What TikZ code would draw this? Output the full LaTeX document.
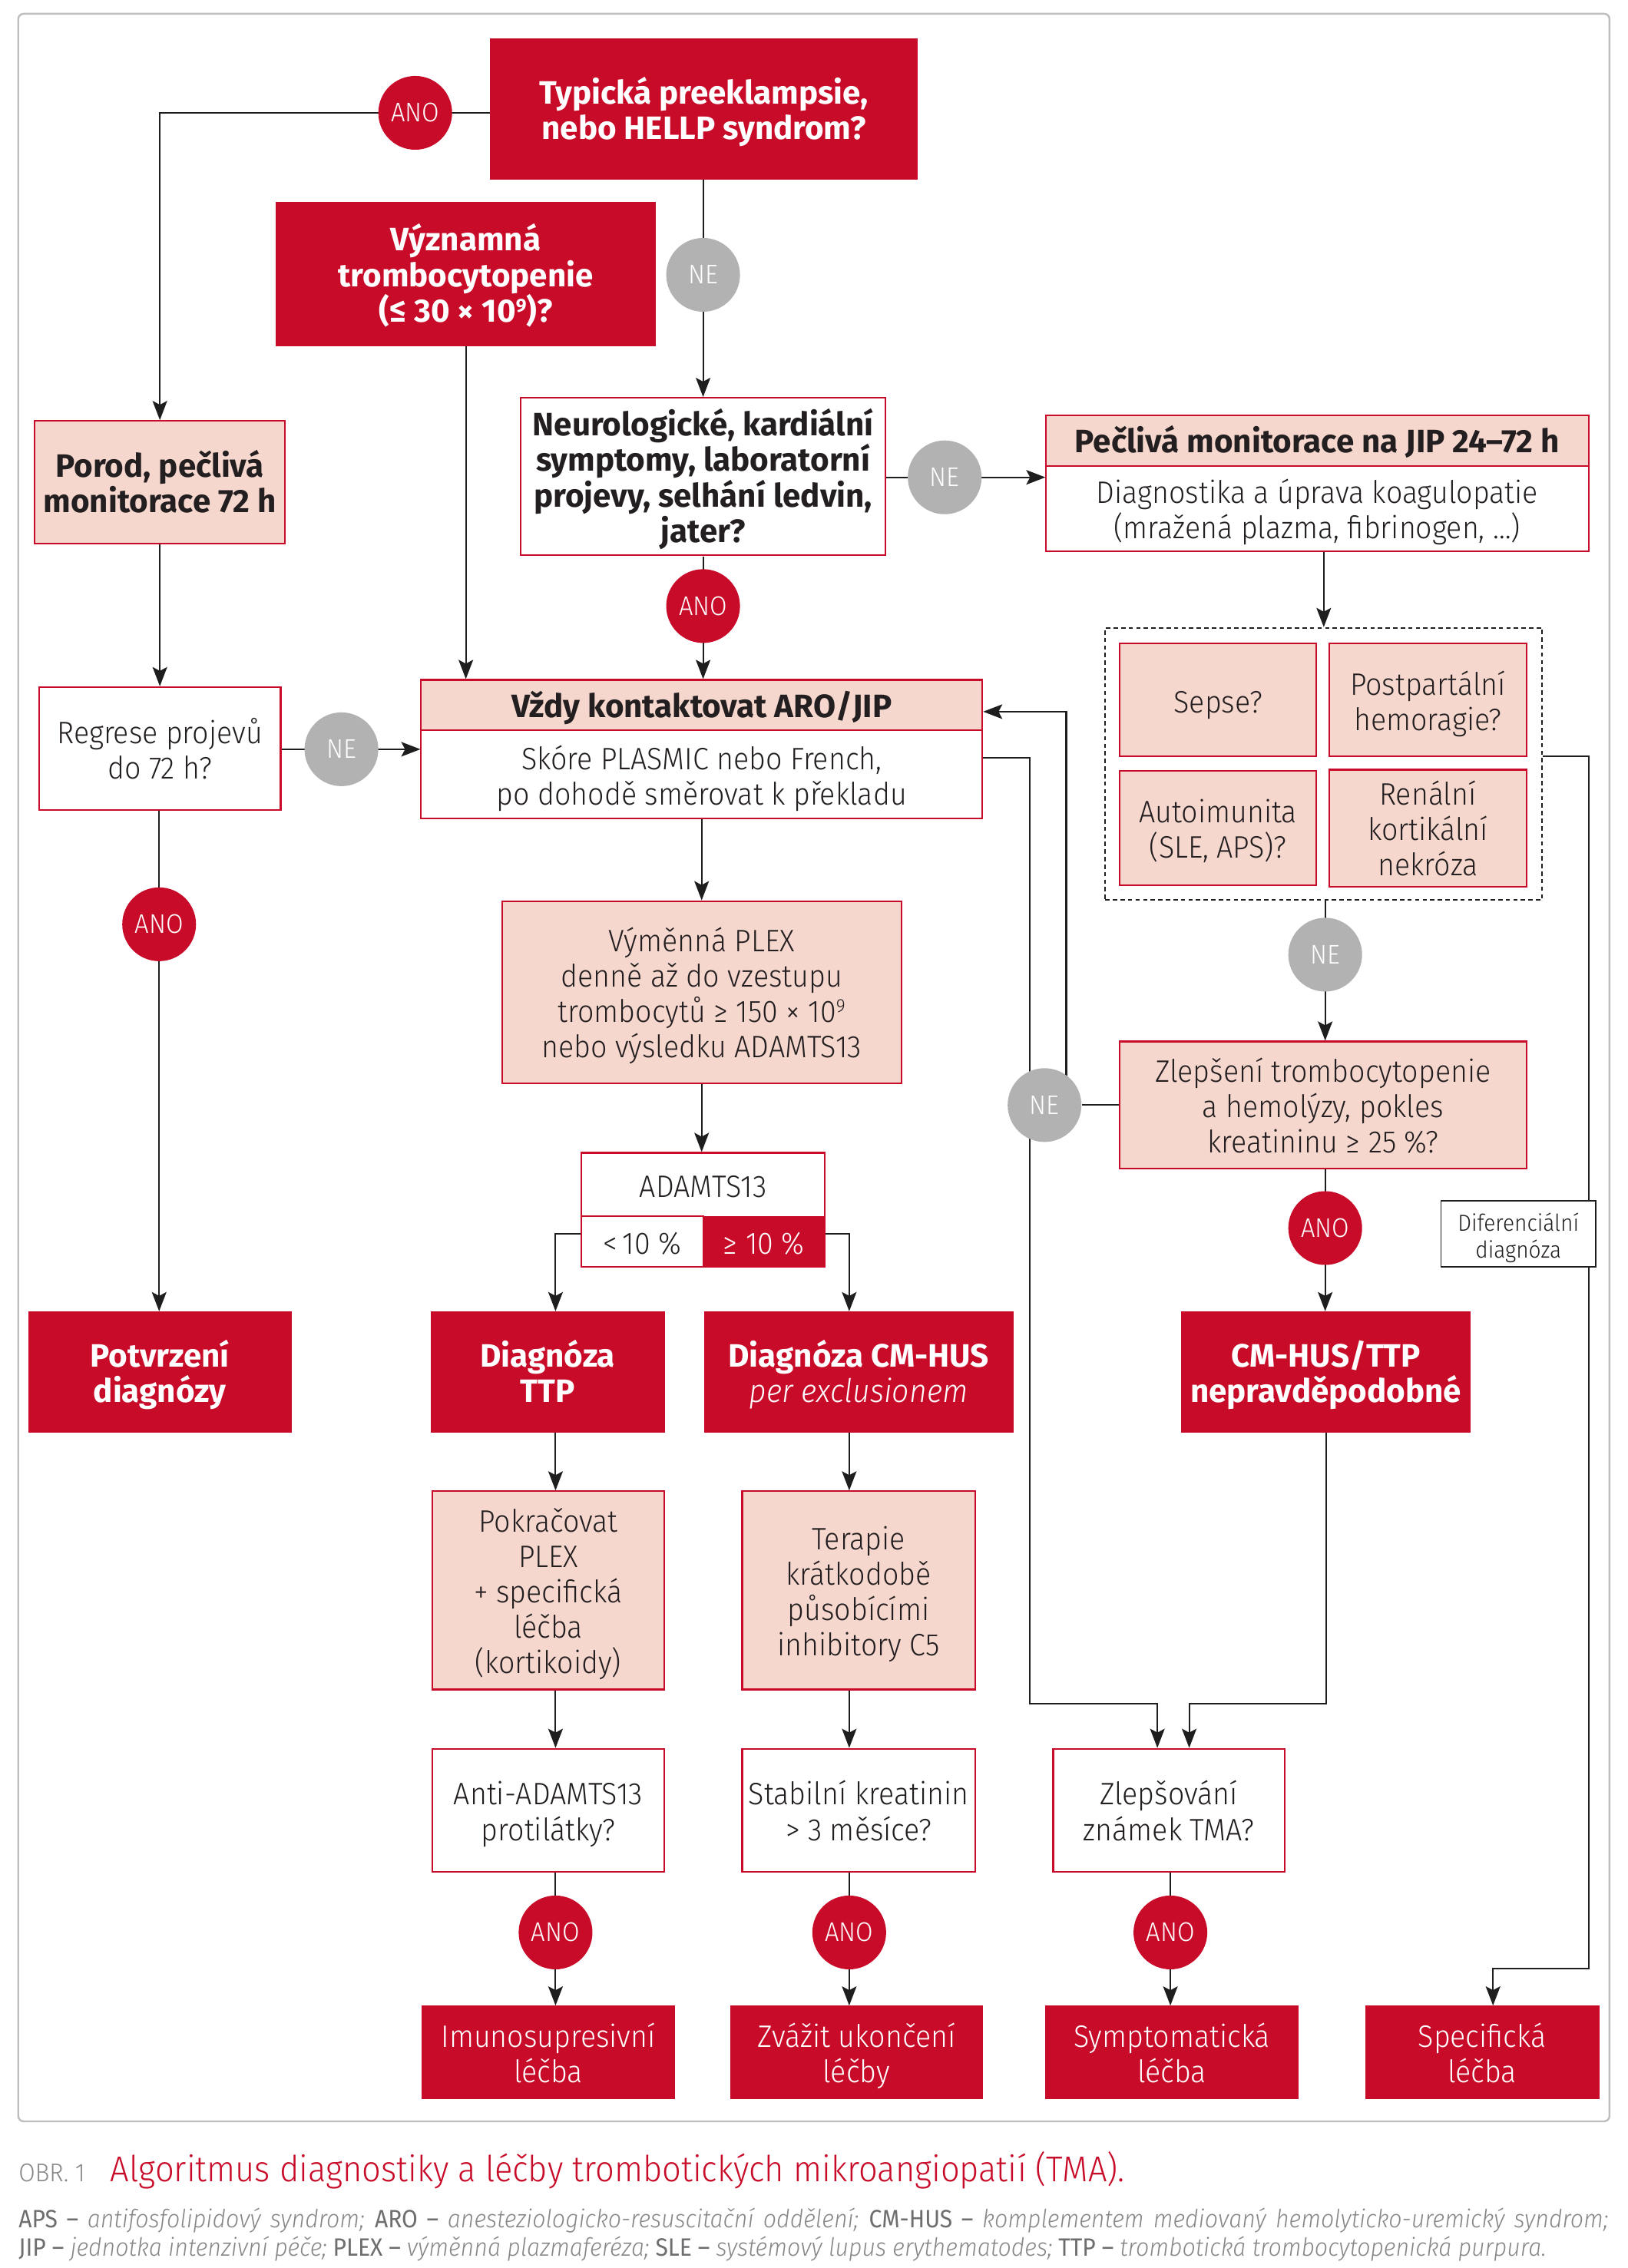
\documentclass[tikz,border=0pt]{standalone}
\usepackage{fontspec}
\setmainfont{Fira Sans}[UprightFeatures={FakeStretch=0.92}, ItalicFeatures={FakeStretch=0.92}]
\IfFontExistsTF{Fira Sans Light}{%
  \newfontfamily\lightfam{Fira Sans Light}[FakeStretch=0.93]}{%
  \newfontfamily\lightfam{Fira Sans}[FakeStretch=0.92]}
\usetikzlibrary{backgrounds,arrows.meta,calc}
\definecolor{tmared}{RGB}{200,11,40}
\definecolor{tpink}{RGB}{246,215,206}
\definecolor{tgray}{RGB}{178,178,178}
\definecolor{tdark}{RGB}{35,31,32}
\definecolor{tline}{RGB}{30,30,30}
\definecolor{framegray}{RGB}{190,190,190}
\definecolor{leggray}{RGB}{110,110,112}
\definecolor{leggrayi}{RGB}{135,135,137}
\newcommand\fsB{\lightfam\fontsize{11.5}{13.1}\selectfont}
\newcommand\fsH{\rmfamily\bfseries\fontsize{12}{13.2}\selectfont}
\newcommand\fsT{\lightfam\fontsize{10}{10}\selectfont}
\newcommand\fsD{\lightfam\fontsize{8.6}{10}\selectfont}
\newcommand\fsL{\fontsize{9.3}{10.5}\selectfont}
\newcommand\supnine{\raisebox{0.6ex}{\fontsize{7}{7}\selectfont 9}}
\newcommand\topstrut{\rule{0pt}{\dimexpr0.7\baselineskip+4pt\relax}}
\newcommand\tb[1]{\topstrut#1\strut}
\tikzset{
  cbox/.style n args={4}{minimum width={(#3-#1)*0.01884cm}, minimum height={(#4-#2)*0.01884cm}, at={({(#1+#3)/2},{(#2+#4)/2})}},
  nbase/.style={rectangle, inner sep=0pt, align=center, text=tdark, font=\fsB},
  redbox/.style={nbase, fill=tmared, draw=tmared, line width=0.5pt, text=white, font=\fsH},
  redlight/.style={redbox, font=\fsB},
  pinkbox/.style={nbase, fill=tpink, draw=tmared, line width=0.6pt},
  whitebox/.style={nbase, fill=white, draw=tmared, line width=0.6pt},
  tagc/.style={circle, inner sep=0pt, minimum size=0.961cm, text=white, font=\fsT},
  anoc/.style={tagc, fill=tmared},
  nec/.style={tagc, fill=tgray},
  arr/.style={draw=tline, line width=0.6pt, -{Stealth[length=0.25cm,width=0.19cm,inset=0.05cm]}},
  conn/.style={draw=tline, line width=0.6pt},
}
\begin{document}
\begin{tikzpicture}[x=0.01884cm, y=-0.01884cm]
\useasboundingbox (0,0) rectangle (1125.3,1568);

% ---- top ----
\node[redbox, cbox={339}{27}{634}{124}] (pre) {\tb{Typická preeklampsie,\\nebo HELLP syndrom?}};
\node[redbox, cbox={191}{140}{453}{239}] (vyz) {\tb{Významná\\trombocytopenie\\(≤ 30 × 10\supnine)?}};
\node[whitebox, font=\fsH, cbox={360}{275}{612}{384}] (neuro) {\tb{Neurologické, kardiální\\symptomy, laboratorní\\projevy, selhání ledvin,\\jater?}};
\node[whitebox, cbox={723}{287}{1098}{381}] (pm) {};
\node[pinkbox, font=\fsH, cbox={723}{287}{1098}{322}] (pmh) {\tb{Pečlivá monitorace na JIP 24–72 h}};
\node[nbase, cbox={723}{322}{1098}{381}] (pmb) {\tb{Diagnostika a úprava koagulopatie\\(mražená plazma, fibrinogen, …)}};
\node[pinkbox, font=\fsH, cbox={24}{291}{197}{376}] (porod) {\tb{Porod, pečlivá\\monitorace 72 h}};
\node[whitebox, cbox={27}{475}{194}{560}] (regrese) {\tb{Regrese projevů\\do 72 h?}};
\node[whitebox, cbox={291}{470}{679}{566}] (vzdy) {};
\node[pinkbox, font=\fsH, cbox={291}{470}{679}{505}] (vzdyh) {\tb{Vždy kontaktovat ARO/JIP}};
\node[nbase, cbox={291}{505}{679}{566}] (vzdyb) {\tb{Skóre PLASMIC nebo French,\\po dohodě směrovat k překladu}};

% ---- dashed group ----
\node[draw=tline, dash pattern=on 1.6pt off 1.2pt, line width=0.5pt, inner sep=0pt, cbox={764}{434}{1066}{622}] (dash) {};
\node[pinkbox, cbox={774}{445}{910}{523}] (sepse) {\tb{Sepse?}};
\node[pinkbox, cbox={919}{445}{1055}{523}] (post) {\tb{Postpartální\\hemoragie?}};
\node[pinkbox, cbox={774}{533}{910}{612}] (auto) {\tb{Autoimunita\\(SLE, APS)?}};
\node[pinkbox, cbox={919}{533}{1055}{612}] (renal) {\tb{Renální\\kortikální\\nekróza}};
\node[pinkbox, cbox={774}{720}{1055}{808}] (zlep) {\tb{Zlepšení trombocytopenie\\a hemolýzy, pokles\\kreatininu ≥ 25 \%?}};
\node[nbase, fill=white, draw=tline, line width=0.5pt, font=\fsD, cbox={996}{830}{1103}{876}] (dif) {\tb{Diferenciální\\diagnóza}};

% ---- middle ----
\node[pinkbox, cbox={347}{623}{623}{749}] (plex) {\tb{Výměnná PLEX\\denně až do vzestupu\\trombocytů ≥ 150 × 10\supnine\\nebo výsledku ADAMTS13}};
\node[whitebox, cbox={402}{797}{570}{876}] (adam) {};
\node[nbase, cbox={402}{797}{570}{841}] (adamt) {\tb{ADAMTS13}};
\node[whitebox, cbox={402}{841}{486}{876}] (lt) {\tb{<\,10 \%}};
\node[redlight, cbox={486}{841}{570}{876}] (ge) {\tb{≥ 10 \%}};

\node[redbox, cbox={20}{907}{201}{990}] (potv) {\tb{Potvrzení\\diagnózy}};
\node[redbox, cbox={298}{907}{459}{990}] (ttp) {\tb{Diagnóza\\TTP}};
\node[redbox, cbox={487}{907}{700}{990}] (cmhus) {\tb{Diagnóza CM-HUS\\{\lightfam\mdseries\itshape per exclusionem}}};
\node[redbox, cbox={817}{907}{1016}{990}] (unl) {\tb{CM-HUS/TTP\\nepravděpodobné}};

\node[pinkbox, cbox={299}{1031}{459}{1168}] (pokr) {\tb{Pokračovat\\PLEX\\+ specifická\\léčba\\(kortikoidy)}};
\node[pinkbox, cbox={513}{1031}{674}{1168}] (ter) {\tb{Terapie\\krátkodobě\\působícími\\inhibitory C5}};
\node[whitebox, cbox={299}{1209}{459}{1294}] (anti) {\tb{Anti-ADAMTS13\\protilátky?}};
\node[whitebox, cbox={513}{1209}{674}{1294}] (stab) {\tb{Stabilní kreatinin\\> 3 měsíce?}};
\node[whitebox, cbox={728}{1209}{888}{1294}] (zlepv) {\tb{Zlepšování\\známek TMA?}};

\node[redlight, cbox={292}{1387}{466}{1451}] (imu) {\tb{Imunosupresivní\\léčba}};
\node[redlight, cbox={505}{1387}{679}{1451}] (zvaz) {\tb{Zvážit ukončení\\léčby}};
\node[redlight, cbox={723}{1387}{897}{1451}] (symp) {\tb{Symptomatická\\léčba}};
\node[redlight, cbox={944}{1387}{1105}{1451}] (spec) {\tb{Specifická\\léčba}};

% ---- tags ----
\node[anoc] (ano1) at (287,78) {ANO};
\node[nec] (ne1) at (486,190) {NE};
\node[nec] (ne2) at (653,330) {NE};
\node[anoc] (ano2) at (486,419) {ANO};
\node[nec] (ne3) at (236,518) {NE};
\node[anoc] (ano3) at (110,639) {ANO};
\node[nec] (ne4) at (916,660) {NE};
\node[nec] (ne5) at (722,764) {NE};
\node[anoc] (ano4) at (916,849) {ANO};
\node[anoc] (ano5) at (384,1336) {ANO};
\node[anoc] (ano6) at (587,1336) {ANO};
\node[anoc] (ano7) at (809,1336) {ANO};

% ---- caption ----
\node[anchor=base west, inner sep=0pt, text=leggrayi, font=\lightfam\fontsize{9.5}{11}\selectfont] (obr) at (12.6,1508) {OBR. 1};
\node[anchor=base west, inner sep=0pt, text=tmared, font=\lightfam\fontsize{13.3}{15}\selectfont] (cap) at (76,1508) {Algoritmus diagnostiky a léčby trombotických mikroangiopatií (TMA).};
\node[anchor=base west, inner sep=0pt, text=leggray, font=\fsL] (leg1) at (12.6,1540) {\hbox to 20.705cm{APS – {\color{leggrayi}\lightfam\itshape antifosfolipidový syndrom;} ARO – {\color{leggrayi}\lightfam\itshape anesteziologicko-resuscitační oddělení;} CM-HUS – {\color{leggrayi}\lightfam\itshape komplementem mediovaný hemolyticko-uremický syndrom;}}};
\node[anchor=base west, inner sep=0pt, text=leggray, font=\fsL] (leg2) at (12.6,1560) {JIP – {\color{leggrayi}\lightfam\itshape jednotka intenzivní péče;} PLEX – {\color{leggrayi}\lightfam\itshape výměnná plazmaferéza;} SLE – {\color{leggrayi}\lightfam\itshape systémový lupus erythematodes;} TTP – {\color{leggrayi}\lightfam\itshape trombotická trombocytopenická purpura.}};

\coordinate (cA) at (384,853);
\coordinate (cB) at (587,853);
\coordinate (fb1) at (737,492);
\coordinate (fb2a) at (712,524);
\coordinate (fb2b) at (712,1178);
\coordinate (j1) at (800,1178);
\coordinate (j2) at (822,1178);
\coordinate (r1) at (1098,523);
\coordinate (r2) at (1032,1361);

\begin{scope}[on background layer]
\draw[framegray, line width=0.7pt, rounded corners=2pt] (12.6,9.5) rectangle (1112.5,1466.6);
\draw[arr] (ano1 -| pre.west) -- (ano1.center) -| (porod.north);
\draw[arr] (pre.south -| ne1) -- (neuro.north -| ne1);
\draw[arr] (vyz.south) -- (vyz.south |- vzdyh.north);
\draw[arr] (neuro.east |- ne2) -- (ne2 -| pmb.west);
\draw[arr] (neuro.south -| ano2) -- (vzdyh.north -| ano2);
\draw[arr] (pmb.south -| dash.north) -- (dash.north);
\draw[arr] (porod.south) -- (regrese.north);
\draw[arr] (regrese.east |- ne3) -- (ne3 -| vzdyb.west);
\draw[arr] (regrese.south -| ano3) -- (potv.north -| ano3);
\draw[arr] (vzdyb.south -| plex.north) -- (plex.north);
\draw[arr] (plex.south) -- (adam.north -| plex.south);
\draw[arr] (cA -| lt.west) -- (cA) -- (cA |- ttp.north);
\draw[arr] (cB -| ge.east) -- (cB) -- (cB |- cmhus.north);
\draw[arr] (cA |- ttp.south) -- (cA |- pokr.north);
\draw[arr] (cA |- pokr.south) -- (cA |- anti.north);
\draw[arr] (cA |- anti.south) -- (cA |- imu.north);
\draw[arr] (cB |- cmhus.south) -- (cB |- ter.north);
\draw[arr] (cB |- ter.south) -- (cB |- stab.north);
\draw[arr] (cB |- stab.south) -- (cB |- zvaz.north);
\draw[arr] (zlepv.south -| ano7) -- (symp.north -| ano7);
\draw[arr] (dash.south -| ne4) -- (zlep.north -| ne4);
\draw[arr] (zlep.south -| ano4) -- (unl.north -| ano4);
\draw[conn] (zlep.west |- ne5) -- (ne5);
\draw[arr] (ne5 -| fb1) -- (fb1) -- (fb1 -| vzdyh.east);
\draw[arr] (fb2a -| vzdyb.east) -- (fb2a) -- (fb2b) -- (j1) -- (j1 |- zlepv.north);
\draw[arr] (unl.south) |- (j2) -- (j2 |- zlepv.north);
\draw[arr] (r1 -| dash.east) -- (r1) |- (r2) -- (r2 |- spec.north);
\end{scope}
\end{tikzpicture}
\end{document}
